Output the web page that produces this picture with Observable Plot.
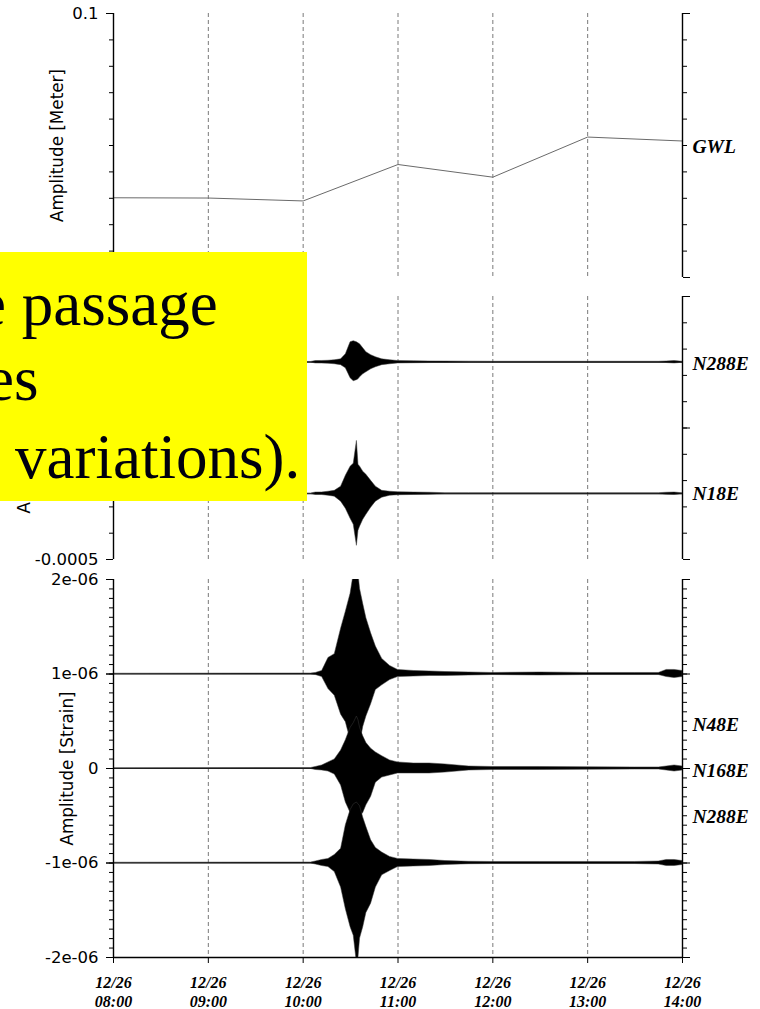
<!DOCTYPE html>
<html><head><meta charset="utf-8">
<script src="https://cdn.jsdelivr.net/npm/d3@7"></script>
<script src="https://cdn.jsdelivr.net/npm/@observablehq/plot@0.6"></script>
<style>
html,body{margin:0;padding:0;background:#fff;overflow:hidden}
#wrap{position:relative;width:760px;height:1009px;background:#fff}
#wrap > .panel{position:absolute;left:0}
#note{position:absolute;left:0;top:252px;width:307px;height:249px;background:#ffff00;overflow:hidden}
#note svg{display:block}
</style></head><body>
<div id="wrap"></div>
<script>
// ---------- data ----------
const hourTicks = ["08:00","09:00","10:00","11:00","12:00","13:00","14:00"];
const tickDates = ["12/26","12/26","12/26","12/26","12/26","12/26","12/26"];
const gridHours = ["09:00","10:00","11:00","12:00","13:00"];

// groundwater level (m), hourly samples
const gwlTimes = ["08:00","09:00","10:00","11:00","12:00","13:00","14:00"];
const gwlValues = [0.0302, 0.0301, 0.0290, 0.0428, 0.0380, 0.0532, 0.0517];

// envelope sample times shared by all seismic traces
const envTimes = ["08:00","10:05","10:08","10:12","10:16","10:20","10:24","10:27","10:30","10:32",
  "10:34","10:35","10:36","10:38","10:40","10:43","10:46","10:50","10:55","11:00",
  "11:10","11:20","11:30","11:45","12:00","12:30","13:00","13:30","13:45","13:50","13:55","14:00"];

// tilt traces: envelope (micro-radian) around offset baseline
const tiltNames = ["N288E", "N18E"];
const tiltOffsets = [0.00025, -0.00025];
const tiltN288EHi = [1.1,1.1,4.6,4.9,5.7,7.6,11,30,76,80,76,72,68,53,38,27,19,11,7.6,4.6,3.8,3,2.7,2.3,1.9,1.9,1.9,1.9,1.9,3,4.6,1.9];
const tiltN288ELo = [-1.1,-1.1,-4.6,-4.9,-5.7,-7.6,-11,-23,-61,-72,-68,-65,-57,-46,-38,-27,-19,-11,-7.6,-4.6,-3.8,-3,-2.7,-2.3,-1.9,-1.9,-1.9,-1.9,-1.9,-3,-4.6,-1.9];
const tiltN18EHi = [1.1,1.1,4.6,4.9,7.6,11,27,68,103,114,201,110,103,84,72,49,27,11,7.6,5.7,4.6,3.8,2.3,2.3,2.3,2.3,2.3,2.3,2.3,3.8,4.6,1.9];
const tiltN18ELo = [-1.1,-1.1,-4.6,-4.9,-7.6,-11,-30,-57,-95,-118,-198,-141,-125,-99,-80,-53,-30,-15,-7.6,-5.7,-4.6,-3.8,-2.3,-2.3,-2.3,-2.3,-2.3,-2.3,-2.3,-3.8,-4.6,-1.9];

// strain traces: envelope (1e-8 strain) around offset baseline
const strainNames = ["N48E", "N168E", "N288E"];
const strainOffsets = [1e-6, 0, -1e-6];
const strainLabelY = [0.46e-6, -0.02e-6, -0.507e-6];
const strainN48EHi = [0.3,0.5,1.1,3.2,17,21,48,66,85,106,106,106,90,74,59,43,29,16,8.5,4.3,3.2,2.7,2.1,1.6,1.1,1.6,1.1,1.1,1.1,4.3,4.3,3.2];
const strainN48ELo = [-0.3,-0.5,-1.1,-3.2,-16,-23,-43,-51,-70,-90,-98,-96,-74,-56,-45,-32,-17,-12,-6.4,-3.2,-2.7,-2.1,-2.1,-1.6,-1.1,-1.6,-1.1,-1.1,-1.1,-3.2,-4.3,-3.2];
const strainN168EHi = [0.3,0.5,1.6,3.2,6.4,9.6,19,30,43,48,55,51,43,34,27,21,17,13,8.5,6.4,5.3,5.3,4.3,2.1,1.6,1.6,1.3,1.1,1.1,2.1,3.2,2.1];
const strainN168ELo = [-0.3,-0.5,-1.6,-2.1,-3.2,-6.4,-18,-36,-47,-50,-53,-59,-51,-47,-39,-30,-15,-9.6,-7.4,-5.3,-5.3,-5.3,-4.3,-2.1,-1.6,-1.6,-1.3,-1.1,-1.1,-2.1,-3.2,-2.1];
const strainN288EHi = [0.3,0.5,1.6,3.2,4.3,8.5,15,40,56,62,64,62,60,48,38,24,16,11,6.4,4.3,3.7,3.2,2.1,1.3,1.1,1.1,1.1,1.1,1.6,3.2,3.2,2.1];
const strainN288ELo = [-0.3,-0.5,-1.6,-3.2,-4.3,-9.6,-26,-49,-68,-77,-106,-100,-80,-68,-53,-43,-26,-13,-8.5,-4.3,-3.7,-3.2,-2.1,-1.3,-1.1,-1.1,-1.1,-1.1,-1.6,-3.2,-3.2,-2.1];

// y tick labels (only those visible in the reference)
const gwlTicks = [0.1], gwlTickLabels = ["0.1"];
const gwlMajor = [0, 0.1];
const tiltTicks = [-0.0005], tiltTickLabels = ["-0.0005"];
const tiltMajor = [-0.0005, 0, 0.0005];
const strainTicks = [-2e-6, -1e-6, 0, 1e-6, 2e-6], strainTickLabels = ["-2e-06", "-1e-06", "0", "1e-06", "2e-06"];

const noteLines = ["e passage", "es", "variations)."];

// ---------- helpers ----------
const T = d3.timeParse("%H:%M");
const t0 = T("08:00"), t1 = T("14:00");
const hours = hourTicks.map(T);
const grid = gridHours.map(T);
const SANS = "DejaVu Sans";
const SERIF = "Liberation Serif";

function env(hi, lo, base, unit) {
  return envTimes.map((s, i) => ({t: T(s), y1: base + lo[i] * unit, y2: base + hi[i] * unit}));
}
function yAxes(minor, major, labelled, labels) {
  const lab = new Map(labelled.map((v, i) => [v, labels[i]]));
  return [
    Plot.axisY(minor, {anchor: "left", tickSize: 4, tickFormat: () => "", label: null}),
    Plot.axisY(major, {anchor: "left", tickSize: 7, tickFormat: () => "", label: null}),
    Plot.axisY(labelled, {anchor: "left", tickSize: 7, tickPadding: 8, tickFormat: d => lab.get(d), label: null, fontSize: 16.5, fontFamily: SANS}),
    Plot.axisY(minor, {anchor: "right", tickSize: 4, tickFormat: () => "", label: null}),
    Plot.axisY(major, {anchor: "right", tickSize: 7, tickFormat: () => "", label: null})
  ];
}
function frameLines() {
  return [
    Plot.ruleX([t0], {stroke: "#000", strokeWidth: 1.4}),
    Plot.ruleX([t1], {stroke: "#000", strokeWidth: 1.4})
  ];
}
function gridMarks() {
  return Plot.ruleX(grid, {stroke: "#7a7a7a", strokeWidth: 1, strokeDasharray: "4,3"});
}
function title(text, dx) {
  return Plot.text([text], {frameAnchor: "left", dx, rotate: -90, textAnchor: "middle", lineAnchor: "middle", fontSize: 16.8, fontFamily: SANS});
}
function sideLabels(names, ys) {
  return Plot.text(names.map((n, i) => ({n, y: ys[i]})), {
    x: () => t1, y: "y", text: "n", dx: 10, textAnchor: "start",
    fontFamily: SERIF, fontWeight: "bold", fontStyle: "italic", fontSize: 19.5
  });
}
const common = {width: 760, marginLeft: 113, marginRight: 78, style: {fontFamily: SANS, fontSize: "16.5px", background: "transparent", overflow: "visible"}};
const area = d => Plot.areaY(d, {x: "t", y1: "y1", y2: "y2", fill: "#000", stroke: "#3a3a3a", strokeWidth: 0.5, clip: true});

// ---------- panel 1 : GWL ----------
const gwl = gwlTimes.map((s, i) => ({t: T(s), v: gwlValues[i]}));
const p1 = Plot.plot({
  ...common, height: 279, marginTop: 13, marginBottom: 2,
  x: {type: "time", domain: [t0, t1], axis: null},
  y: {domain: [0, 0.1]},
  marks: [
    gridMarks(),
    Plot.line(gwl, {x: "t", y: "v", stroke: "#6a6a6a", strokeWidth: 1}),
    ...yAxes(d3.ticks(0, 0.1, 10), gwlMajor, gwlTicks, gwlTickLabels),
    ...frameLines(),
    title("Amplitude [Meter]", -56),
    sideLabels(["GWL"], [0.0497])
  ]
});

// ---------- panel 2 : tilt ----------
const tiltEnv = [env(tiltN288EHi, tiltN288ELo, tiltOffsets[0], 1e-6), env(tiltN18EHi, tiltN18ELo, tiltOffsets[1], 1e-6)];
const p2 = Plot.plot({
  ...common, height: 283, marginTop: 10, marginBottom: 10,
  x: {type: "time", domain: [t0, t1], axis: null},
  y: {domain: [-0.0005, 0.0005]},
  marks: [
    gridMarks(),
    Plot.ruleY(tiltOffsets, {stroke: "#111", strokeWidth: 1}),
    ...tiltEnv.map(area),
    ...yAxes(d3.ticks(-0.0005, 0.0005, 10), tiltMajor, tiltTicks, tiltTickLabels),
    ...frameLines(),
    title("Amplitude [Radians]", -89),
    sideLabels(tiltNames, [0.000245, -0.00025])
  ]
});

// ---------- panel 3 : strain ----------
const dateLab = new Map(hours.map((h, i) => [+h, tickDates[i]]));
const timeLab = new Map(hours.map((h, i) => [+h, hourTicks[i]]));
const xText = {fontFamily: SERIF, fontWeight: "bold", fontStyle: "italic", fontSize: 16, label: null};
const strainEnv = [
  env(strainN48EHi, strainN48ELo, strainOffsets[0], 1e-8),
  env(strainN168EHi, strainN168ELo, strainOffsets[1], 1e-8),
  env(strainN288EHi, strainN288ELo, strainOffsets[2], 1e-8)
];
const p3 = Plot.plot({
  ...common, height: 438, marginTop: 8, marginBottom: 52,
  x: {type: "time", domain: [t0, t1]},
  y: {domain: [-2e-6, 2e-6]},
  marks: [
    gridMarks(),
    Plot.ruleY(strainOffsets, {stroke: "#111", strokeWidth: 1}),
    ...strainEnv.map(area),
    ...yAxes(d3.ticks(-2e-6, 2e-6, 40), strainTicks, strainTicks, strainTickLabels),
    ...frameLines(),
    Plot.ruleY([-2e-6], {stroke: "#000", strokeWidth: 1.4}),
    Plot.axisX(hours, {anchor: "bottom", tickSize: 6, tickPadding: 13, tickFormat: d => dateLab.get(+d), ...xText}),
    Plot.axisX(hours, {anchor: "bottom", tickSize: 0, tickPadding: 38, tickFormat: d => timeLab.get(+d), ...xText}),
    title("Amplitude [Strain]", -46),
    sideLabels(strainNames, strainLabelY)
  ]
});

const wrap = document.getElementById("wrap");
[[p1, 0], [p2, 286], [p3, 571]].forEach(([svg, top]) => {
  svg.classList.add("panel");
  svg.style.top = top + "px";
  wrap.appendChild(svg);
});

// ---------- yellow overlay note ----------
const note = document.createElement("div");
note.id = "note";
const ns = "http://www.w3.org/2000/svg";
const s = document.createElementNS(ns, "svg");
s.setAttribute("width", 307); s.setAttribute("height", 249);
const noteX = [-22, -14, 15], noteBase = [73, 148, 226];
noteLines.forEach((txt, i) => {
  const t = document.createElementNS(ns, "text");
  t.setAttribute("x", noteX[i]); t.setAttribute("y", noteBase[i]);
  t.setAttribute("font-family", SERIF); t.setAttribute("font-size", 63);
  t.setAttribute("fill", "#00000f");
  t.textContent = txt;
  s.appendChild(t);
});
note.appendChild(s);
wrap.appendChild(note);
</script>
</body></html>
